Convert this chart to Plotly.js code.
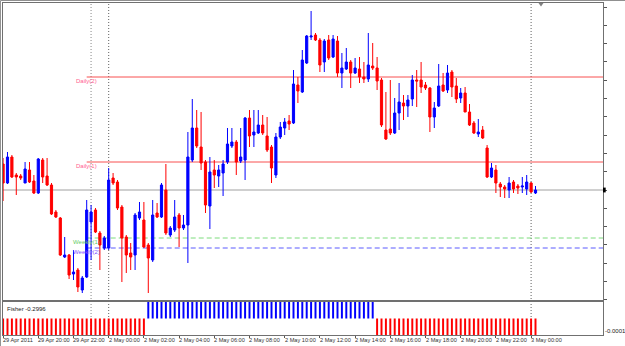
<!DOCTYPE html>
<html><head><meta charset="utf-8">
<script src="https://cdn.plot.ly/plotly-3.0.1.min.js"></script>
<style>html,body{margin:0;padding:0;background:#fff}#chart{width:625px;height:346px}</style>
</head><body><div id="chart"></div>
<script>
// EURUSD M15, 29 Apr 2011 18:00 -> 3 May 2011 00:15 (one entry per bar)
const open = [1.48180,1.48085,1.48215,1.48125,1.48120,1.48085,1.48150,1.48095,1.48035,1.48200,
1.48120,1.48075,1.47940,1.47910,1.47715,1.47725,1.47630,1.47650,1.47550,1.47615,
1.47890,1.47950,1.47835,1.47760,1.47760,1.48110,1.48090,1.47965,1.47815,1.47735,
1.47725,1.47910,1.47900,1.47775,1.47700,1.47935,1.47915,1.48050,1.47825,1.47850,
1.47925,1.47860,1.47875,1.48200,1.48360,1.48265,1.48190,1.47970,1.48150,1.48120,
1.48135,1.48190,1.48270,1.48290,1.48195,1.48200,1.48410,1.48325,1.48335,1.48375,
1.48320,1.48265,1.48125,1.48315,1.48360,1.48395,1.48385,1.48575,1.48540,1.48685,
1.48815,1.48825,1.48800,1.48690,1.48800,1.48715,1.48795,1.48635,1.48655,1.48690,
1.48635,1.48655,1.48615,1.48605,1.48670,1.48660,1.48600,1.48350,1.48355,1.48335,
1.48435,1.48485,1.48470,1.48505,1.48600,1.48600,1.48575,1.48560,1.48415,1.48470,
1.48575,1.48550,1.48640,1.48570,1.48510,1.48535,1.48440,1.48385,1.48330,1.48350,
1.48260,1.48115,1.48150,1.48080,1.48065,1.48050,1.48090,1.48070,1.48065,1.48055,
1.48085,1.48035];
const high = [1.48210,1.48240,1.48225,1.48135,1.48130,1.48190,1.48190,1.48125,1.48210,1.48210,
1.48210,1.48085,1.47950,1.47915,1.47815,1.47730,1.47750,1.47660,1.47620,1.48000,
1.47975,1.47960,1.47845,1.47820,1.48160,1.48135,1.48100,1.47975,1.47825,1.47785,
1.47935,1.47990,1.47990,1.47785,1.48000,1.47985,1.48085,1.48180,1.47870,1.48000,
1.47935,1.47925,1.48340,1.48505,1.48450,1.48440,1.48200,1.48215,1.48200,1.48175,
1.48200,1.48360,1.48360,1.48300,1.48360,1.48415,1.48450,1.48450,1.48450,1.48425,
1.48415,1.48275,1.48335,1.48390,1.48410,1.48425,1.48650,1.48615,1.48750,1.48825,
1.48945,1.48835,1.48810,1.48805,1.48825,1.48825,1.48820,1.48735,1.48760,1.48700,
1.48710,1.48715,1.48690,1.48835,1.48785,1.48715,1.48610,1.48540,1.48600,1.48510,
1.48585,1.48525,1.48525,1.48625,1.48650,1.48690,1.48590,1.48565,1.48490,1.48680,
1.48635,1.48675,1.48650,1.48610,1.48560,1.48565,1.48480,1.48395,1.48405,1.48370,
1.48275,1.48185,1.48175,1.48090,1.48075,1.48115,1.48100,1.48080,1.48115,1.48125,
1.48090,1.48070];
const low = [1.47995,1.48080,1.48110,1.48025,1.48100,1.48085,1.48085,1.48030,1.48030,1.48085,
1.48070,1.47925,1.47910,1.47720,1.47710,1.47605,1.47600,1.47540,1.47535,1.47610,
1.47700,1.47835,1.47650,1.47750,1.47750,1.48075,1.47950,1.47590,1.47635,1.47650,
1.47650,1.47900,1.47760,1.47535,1.47690,1.47910,1.47910,1.47825,1.47815,1.47840,
1.47765,1.47850,1.47685,1.48190,1.48260,1.48150,1.47935,1.47855,1.48060,1.48065,
1.48020,1.48180,1.48260,1.48125,1.48185,1.48100,1.48265,1.48265,1.48330,1.48325,
1.48240,1.48085,1.48110,1.48305,1.48325,1.48350,1.48380,1.48485,1.48535,1.48680,
1.48800,1.48795,1.48640,1.48640,1.48700,1.48710,1.48615,1.48560,1.48650,1.48560,
1.48630,1.48585,1.48585,1.48590,1.48650,1.48550,1.48365,1.48300,1.48325,1.48330,
1.48350,1.48400,1.48415,1.48470,1.48465,1.48535,1.48550,1.48340,1.48360,1.48465,
1.48540,1.48535,1.48515,1.48485,1.48485,1.48440,1.48370,1.48330,1.48315,1.48305,
1.48110,1.48110,1.48035,1.48015,1.48010,1.48010,1.48035,1.48030,1.48035,1.48025,
1.48035,1.48030];
const close = [1.48085,1.48215,1.48115,1.48115,1.48110,1.48155,1.48090,1.48035,1.48205,1.48115,
1.48075,1.47930,1.47915,1.47725,1.47725,1.47625,1.47640,1.47565,1.47610,1.47950,
1.47940,1.47840,1.47775,1.47810,1.48100,1.48085,1.47960,1.47810,1.47725,1.47715,
1.47925,1.47940,1.47765,1.47710,1.47925,1.47915,1.48075,1.47835,1.47860,1.47915,
1.47860,1.47875,1.48215,1.48360,1.48270,1.48185,1.47975,1.48140,1.48125,1.48150,
1.48180,1.48280,1.48290,1.48190,1.48215,1.48410,1.48320,1.48340,1.48375,1.48335,
1.48250,1.48160,1.48315,1.48365,1.48390,1.48380,1.48580,1.48545,1.48700,1.48820,
1.48820,1.48800,1.48675,1.48795,1.48710,1.48805,1.48635,1.48660,1.48690,1.48635,
1.48660,1.48615,1.48605,1.48675,1.48660,1.48595,1.48375,1.48305,1.48335,1.48435,
1.48490,1.48470,1.48500,1.48600,1.48595,1.48565,1.48560,1.48415,1.48460,1.48570,
1.48545,1.48635,1.48565,1.48505,1.48535,1.48440,1.48375,1.48335,1.48340,1.48310,
1.48115,1.48160,1.48085,1.48065,1.48055,1.48085,1.48055,1.48060,1.48070,1.48090,
1.48040,1.48050];
// Fisher histogram sign per bar
const fisher = [-1,-1,-1,-1,-1,-1,-1,-1,-1,-1,-1,-1,-1,-1,-1,-1,-1,-1,-1,-1,-1,-1,-1,-1,-1,-1,-1,-1,-1,-1,-1,-1,-1,
1,1,1,1,1,1,1,1,1,1,1,1,1,1,1,1,1,1,1,1,1,1,1,1,1,1,1,1,1,1,1,1,1,1,1,1,1,1,1,1,1,1,1,1,1,1,1,1,1,1,1,1,
-1,-1,-1,-1,-1,-1,-1,-1,-1,-1,-1,-1,-1,-1,-1,-1,-1,-1,-1,-1,-1,-1,-1,-1,-1,-1,-1,-1,-1,-1,-1,-1,-1,-1,-1,-1,-1];
const tickIndex = [0,8,16,24,32,40,48,56,64,72,80,88,96,104,112,120];
const tickLabels = ["29 Apr 2011","29 Apr 20:00","29 Apr 22:00","2 May 00:00","2 May 02:00","2 May 04:00",
"2 May 06:00","2 May 08:00","2 May 10:00","2 May 12:00","2 May 14:00","2 May 16:00","2 May 18:00",
"2 May 20:00","2 May 22:00","3 May 00:00"];
const levelNames = ["Daily(2)","Daily(1)","Weekly(1)","Weekly(2)"];
const levelValues = [1.48615, 1.48190, 1.47810, 1.47760];
const levelColors = ["#f85050","#f85050","#7ddc7d","#5a5aff"];
const levelLabelColors = ["#ff6090","#ff6090","#66cc66","#8050ff"];
const levelDash = ["solid","solid","5px,3px","5px,3px"];
const separatorIndex = [20, 24, 120];
const fisherText = "Fisher -0.2996";
const fisherScaleText = "-0.0001";

const idx = open.map((_, i) => i);
const bid = close[close.length - 1];
const XR = [-0.02, 136.34];
const FONT = "Liberation Sans, Arial, sans-serif";

const traces = [
  {type:'candlestick', x: idx, open, high, low, close, xaxis:'x', yaxis:'y',
   increasing:{line:{color:'#0000ff', width:1}, fillcolor:'#0000ff'},
   decreasing:{line:{color:'#ff0000', width:1}, fillcolor:'#ff0000'},
   hoverinfo:'skip', showlegend:false},
  {type:'bar', x: idx, y: fisher, xaxis:'x2', yaxis:'y2', width:0.45,
   marker:{color: fisher.map(v => v > 0 ? '#0000ff' : '#ff0000'), line:{width:0}},
   hoverinfo:'skip', showlegend:false}
];

const shapes = [];
shapes.push({type:'line', xref:'paper', yref:'y', x0:0, x1:1, y0:bid, y1:bid,
  line:{color:'#a0a0a0', width:1}, layer:'below'});
levelValues.forEach((v, k) => shapes.push({type:'line', xref:'x', yref:'y', x0:19, x1:XR[1], y0:v, y1:v,
  line:{color:levelColors[k], width:1, dash:levelDash[k]}, layer:'below'}));
separatorIndex.forEach((s, k) => shapes.push({type:'line', xref:'x', yref:'paper', x0:s, x1:s, y0:0, y1:1,
  line:{color: k === 0 ? '#b0b0b0' : '#606060', width: k === 0 ? 1.5 : 1, dash:'1px,2px'}, layer:'below'}));
shapes.push({type:'rect', xref:'paper', yref:'y', x0:1.0, x1:1.0045, y0:bid-0.00012, y1:bid+0.00012,
  fillcolor:'#000', line:{width:0}});
shapes.push({type:'path', xref:'paper', yref:'paper', path:'M0.8925,1 L0.9008,1 L0.8967,0.9895 Z',
  fillcolor:'#808080', line:{width:0}});
shapes.push({type:'line', xref:'paper', yref:'paper', x0:-0.0042, x1:1.04, y0:1.0075, y1:1.0075, line:{color:'#909090', width:1}});
shapes.push({type:'line', xref:'paper', yref:'paper', x0:-0.0042, x1:-0.0042, y0:-0.04, y1:1.0075, line:{color:'#909090', width:1}});

const annotations = [];
levelNames.forEach((n, k) => annotations.push({xref:'x', yref:'y', x:19, y:levelValues[k], yshift:-3.5,
  text:n, showarrow:false, xanchor:'center', yanchor:'middle', font:{family:FONT, size:6, color:levelLabelColors[k]}}));
tickIndex.forEach((t, k) => annotations.push({xref:'x2', yref:'paper', x:t, y:0, xshift:-2, yshift:0,
  text:tickLabels[k], showarrow:false, xanchor:'left', yanchor:'top', font:{family:FONT, size:5.6, color:'#333'}}));
annotations.push({xref:'paper', yref:'paper', x:0.0033, y:0.0792, text:fisherText, showarrow:false,
  xanchor:'left', yanchor:'middle', font:{family:FONT, size:6, color:'#222'}});
annotations.push({xref:'paper', yref:'paper', x:1.0, y:0.012, text:fisherScaleText, showarrow:false,
  xanchor:'left', yanchor:'middle', font:{family:FONT, size:6, color:'#222'}});

const frame = {showline:true, mirror:true, linecolor:'#707070', linewidth:1, showgrid:false, zeroline:false};
const layout = {
  width:625, height:346, margin:{l:3, r:22, t:3, b:11},
  paper_bgcolor:'#ffffff', plot_bgcolor:'#ffffff', showlegend:false, dragmode:false,
  xaxis: Object.assign({}, frame, {domain:[0,1], anchor:'y', range:XR, showticklabels:false, ticks:'',
    rangeslider:{visible:false}}),
  yaxis: Object.assign({}, frame, {domain:[0.1054,1], anchor:'x', side:'right', range:[1.47500, 1.48985],
    ticks:'outside', ticklen:3, tickcolor:'#555', tick0:bid, dtick:0.000915, showticklabels:false}),
  xaxis2: Object.assign({}, frame, {domain:[0,1], anchor:'y2', range:XR, matches:'x',
    tickmode:'array', tickvals:tickIndex, ticks:'outside', ticklen:2, tickcolor:'#555', showticklabels:false}),
  yaxis2: Object.assign({}, frame, {domain:[0,0.0994], anchor:'x2', side:'right', range:[-1,1],
    ticks:'', showticklabels:false}),
  shapes, annotations
};
Plotly.newPlot('chart', traces, layout, {staticPlot:true, displayModeBar:false});
</script></body></html>
